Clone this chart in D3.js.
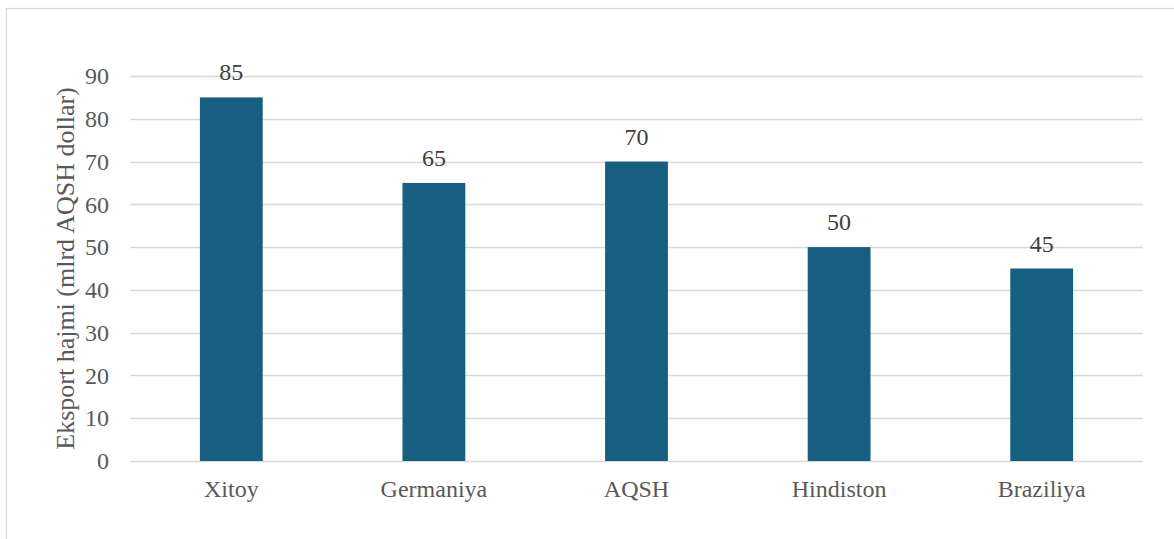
<!DOCTYPE html>
<html>
<head>
<meta charset="utf-8">
<script src="https://cdn.jsdelivr.net/npm/d3@7"></script>
<style>
  html, body { margin: 0; padding: 0; background: #fff; }
  svg { display: block; }
  svg text { font-family: 'Liberation Serif', 'Times New Roman', Times, 'DejaVu Serif', serif !important; }
</style>
</head>
<body>
<svg id="chart"></svg>
<script>
// 数据
const categories = ['Xitoy', 'Germaniya', 'AQSH', 'Hindiston', 'Braziliya'];
const values = [85, 65, 70, 50, 45];
const yTicks = [0, 10, 20, 30, 40, 50, 60, 70, 80, 90];
const yTitle = 'Eksport hajmi (mlrd AQSH dollar)';

const width = 1174, height = 539;
const margin = { top: 76, right: 31, bottom: 78, left: 130 };

const svg = d3.select('#chart')
    .attr('width', width)
    .attr('height', height);

// 外框
svg.append('rect')
    .attr('x', 6.5).attr('y', 8.5)
    .attr('width', width + 10).attr('height', height + 10)
    .attr('fill', 'none')
    .attr('stroke', '#d9d9d9')
    .attr('stroke-width', 1.2);

const x = d3.scaleBand()
    .domain(categories)
    .range([margin.left, width - margin.right])
    .paddingInner(0.69)
    .paddingOuter(0.345);

const y = d3.scaleLinear()
    .domain([0, 90])
    .range([height - margin.bottom, margin.top]);

// 网格线
svg.append('g')
    .selectAll('line')
    .data(yTicks)
    .enter().append('line')
    .attr('x1', margin.left)
    .attr('x2', width - margin.right)
    .attr('y1', d => Math.round(y(d)) + 0.5)
    .attr('y2', d => Math.round(y(d)) + 0.5)
    .attr('stroke', '#d9d9d9')
    .attr('stroke-width', 1.5);

// Y 轴刻度
const yAxis = svg.append('g')
    .attr('transform', `translate(${margin.left - 21},0)`)
    .call(d3.axisLeft(y).tickValues(yTicks).tickSize(0).tickPadding(0));
yAxis.select('.domain').remove();
yAxis.selectAll('text')
    .attr('font-size', 24)
    .attr('fill', '#595959');

// 柱子
svg.append('g')
    .selectAll('rect')
    .data(values)
    .enter().append('rect')
    .attr('x', (d, i) => x(categories[i]))
    .attr('y', d => y(d))
    .attr('width', x.bandwidth())
    .attr('height', d => y(0) - y(d))
    .attr('fill', '#175f80');

// 数值标签
svg.append('g')
    .selectAll('text')
    .data(values)
    .enter().append('text')
    .attr('x', (d, i) => x(categories[i]) + x.bandwidth() / 2)
    .attr('y', d => y(d) - 17)
    .attr('text-anchor', 'middle')
    .attr('font-size', 24)
    .attr('fill', '#404040')
    .text(d => d);

// X 轴标签
const xAxis = svg.append('g')
    .attr('transform', `translate(0,${y(0) + 14})`)
    .call(d3.axisBottom(x).tickSize(0).tickPadding(0));
xAxis.select('.domain').remove();
xAxis.selectAll('text')
    .attr('dy', '0.9em')
    .attr('font-size', 24)
    .attr('fill', '#595959');

// Y 轴标题
svg.append('text')
    .attr('transform', `translate(74,${(y(0) + y(90)) / 2}) rotate(-90)`)
    .attr('text-anchor', 'middle')
    .attr('font-size', 26)
    .attr('fill', '#595959')
    .text(yTitle);
</script>
</body>
</html>
